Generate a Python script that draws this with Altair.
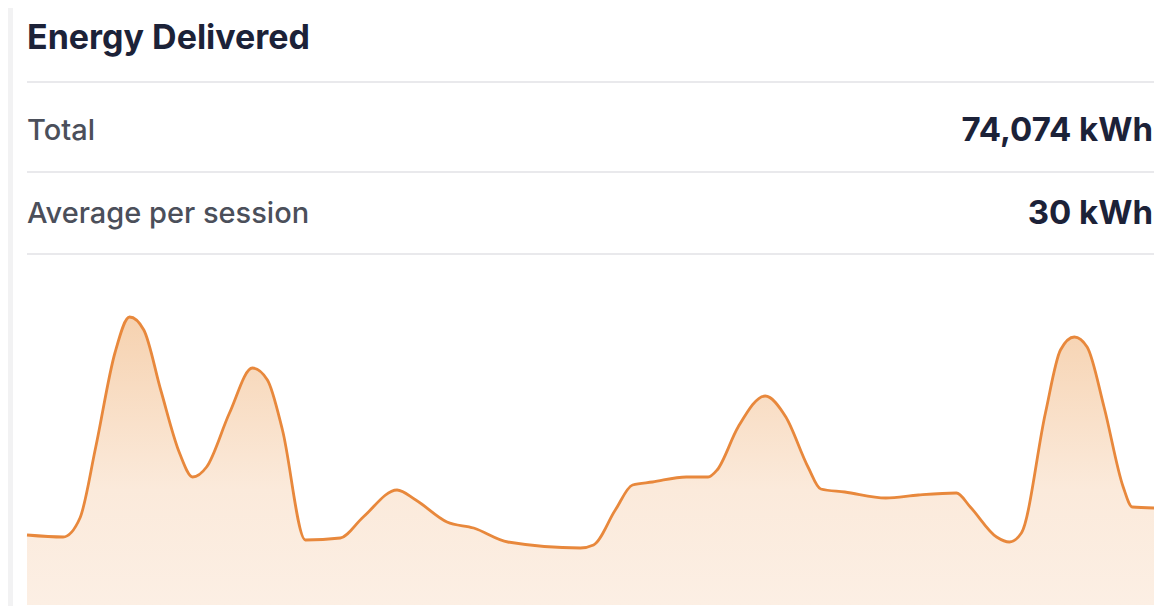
import altair as alt
import pandas as pd

# ---- data ----
title_text = "Energy Delivered"
row_labels = ["Total", "Average per session"]
row_values = ["74,074 kWh", "30 kWh"]

day = [0.0, 0.96, 1.41, 1.83, 2.34, 2.73, 3.11, 3.56, 4.06, 4.41, 4.78, 5.39, 6.0,
       6.40, 6.80, 7.41, 8.34, 8.95, 9.85, 10.35, 11.18, 11.89, 12.80, 14.73, 15.08,
       15.66, 16.12, 16.65, 17.55, 18.13, 18.37, 18.93, 19.65, 20.20, 20.79, 21.13,
       21.77, 22.86, 23.73, 24.74, 25.11, 25.81, 26.15, 26.47, 27.11, 27.51, 27.88,
       28.22, 28.67, 29.18, 29.42, 30.0]
energy = [70, 68, 87, 158, 252, 288, 275, 215, 152, 128, 138, 192, 237,
          225, 175, 65, 67, 88, 115, 105, 83, 77, 63, 57, 60,
          95, 120, 123, 128, 128, 135, 178, 209, 188, 138, 116,
          113, 107, 110, 112, 98, 68, 63, 72, 192, 255, 268,
          258, 198, 118, 98, 97]

df = pd.DataFrame({"day": day, "energy": energy})
one = pd.DataFrame({"k": [0]})

W, H = 1146, 598
FONT = "Inter"

card = alt.Chart(one).mark_rect(color="white").encode(
    x=alt.value(5), x2=alt.value(W), y=alt.value(0), y2=alt.value(H)
)

def txt(text, x, y, size, weight, color, align="left"):
    return alt.Chart(one).mark_text(
        align=align, baseline="middle", font=FONT, fontSize=size,
        fontWeight=weight, color=color
    ).encode(x=alt.value(x), y=alt.value(y), text=alt.value(text))

def sep(y):
    return alt.Chart(one).mark_rule(color="#e9e9ec", strokeWidth=2).encode(
        x=alt.value(19), x2=alt.value(W), y=alt.value(y)
    )

layers = [
    card,
    txt(title_text, 19, 31, 34, 700, "#1c2238"),
    sep(74),
    txt(row_labels[0], 19, 123, 29, 500, "#4b4f5a"),
    txt(row_values[0], 1145, 123, 33, 700, "#1c2238", "right"),
    sep(164),
    txt(row_labels[1], 19, 206, 29, 500, "#4b4f5a"),
    txt(row_values[1], 1145, 206, 33, 700, "#1c2238", "right"),
    sep(246),
]

xs = alt.X("day:Q", scale=alt.Scale(domain=[0, 30], range=[19, 1146]), axis=None)
ys = alt.Y("energy:Q", scale=alt.Scale(domain=[0, 300], range=[597, 297]), axis=None)

area = alt.Chart(df).mark_area(
    interpolate="monotone",
    color=alt.Gradient(
        gradient="linear",
        stops=[alt.GradientStop(color="#f6d2b0", offset=0),
               alt.GradientStop(color="#fbeadb", offset=0.6),
               alt.GradientStop(color="#fcefe4", offset=1)],
        x1=1, x2=1, y1=0, y2=1,
    ),
).encode(x=xs, y=ys)

line = alt.Chart(df).mark_line(
    interpolate="monotone", color="#e8883c", strokeWidth=2.8
).encode(x=xs, y=ys)

chart = alt.layer(*layers, area, line).properties(
    width=W, height=H,
    autosize=alt.AutoSizeParams(type="none"),
    padding=0,
    background="#f2f2f3",
).configure_view(stroke=None)

chart.save("out.html", embed_options={"renderer": "svg", "actions": False})
